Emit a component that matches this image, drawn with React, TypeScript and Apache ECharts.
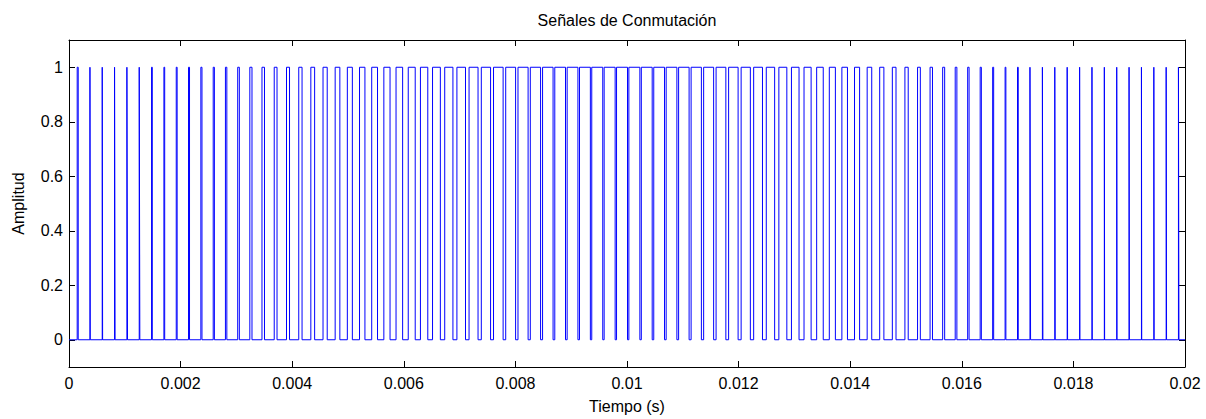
import React, { useEffect, useRef } from "react";
import * as echarts from "echarts";

// Pulse centres (ms)
const pulseCentersMs = [
  0.156, 0.378, 0.599, 0.821, 1.043, 1.264, 1.486, 1.708, 1.93, 2.151,
  2.373, 2.595, 2.816, 3.038, 3.26, 3.481, 3.703, 3.925, 4.147, 4.368,
  4.59, 4.812, 5.033, 5.255, 5.477, 5.698, 5.92, 6.142, 6.364, 6.585,
  6.807, 7.029, 7.25, 7.472, 7.694, 7.915, 8.137, 8.359, 8.581, 8.802,
  9.024, 9.246, 9.467, 9.689, 9.911, 10.132, 10.354, 10.576, 10.798, 11.019,
  11.241, 11.463, 11.684, 11.906, 12.128, 12.349, 12.571, 12.793, 13.015, 13.236,
  13.458, 13.68, 13.901, 14.123, 14.345, 14.566, 14.788, 15.01, 15.232, 15.453,
  15.675, 15.897, 16.118, 16.34, 16.562, 16.783, 17.005, 17.227, 17.449, 17.67,
  17.892, 18.114, 18.335, 18.557, 18.779, 19.0, 19.222, 19.444, 19.666, 19.887,
];

// Pulse widths (µs)
const pulseWidthsUs = [
  18, 5, 7, 9, 11, 11, 13, 14, 16, 18,
  20, 21, 25, 29, 39, 45, 50, 54, 59, 68,
  75, 84, 90, 97, 104, 111, 118, 125, 132, 140,
  147, 154, 161, 166, 172, 177, 181, 184, 188, 192,
  193, 195, 197, 197, 197, 197, 195, 193, 192, 188,
  184, 179, 175, 170, 165, 158, 150, 143, 136, 127,
  118, 109, 100, 91, 82, 75, 66, 59, 50, 43,
  36, 30, 25, 21, 18, 14, 13, 11, 9, 7,
  7, 5, 5, 5, 5, 5, 5, 5, 7, 9,
];

const xTicks = [0, 0.002, 0.004, 0.006, 0.008, 0.01, 0.012, 0.014, 0.016, 0.018, 0.02];
const yTicks = [0, 0.2, 0.4, 0.6, 0.8, 1];

const titleText = "Señales de Conmutación";
const xName = "Tiempo (s)";
const yName = "Amplitud";

export default function App() {
  const ref = useRef<HTMLDivElement>(null);
  useEffect(() => {
    if (!ref.current) return;
    const chart = echarts.init(ref.current, undefined, { renderer: "svg" });

    const data: [number, number][] = [[0, 0]];
    pulseCentersMs.forEach((c, i) => {
      const w = pulseWidthsUs[i] / 1000;
      const r = (c - w / 2) / 1000;
      const f = (c + w / 2) / 1000;
      data.push([r, 0], [r, 1], [f, 1], [f, 0]);
    });
    data.push([0.02, 0]);

    const font = "'Liberation Sans', Arial, sans-serif";
    const fs = 16;
    const fmt = (v: number) => parseFloat(v.toFixed(4)).toString();
    const line = { show: true, onZero: false, lineStyle: { color: "#000", width: 1 } };
    const tick = (vals: number[]) => ({
      show: true,
      inside: true,
      length: 6,
      lineStyle: { color: "#000" },
      customValues: vals,
    });

    chart.setOption({
      animation: false,
      backgroundColor: "#ffffff",
      graphic: [
        {
          type: "text",
          x: 627,
          y: 20,
          style: {
            text: titleText,
            fill: "#000",
            font: `${fs}px ${font}`,
            textAlign: "center",
            textVerticalAlign: "middle",
          },
        },
      ],
      grid: { left: 69, right: 21, top: 40, bottom: 50 },
      xAxis: [
        {
          type: "value",
          min: 0,
          max: 0.02,
          interval: 0.002,
          name: xName,
          nameLocation: "middle",
          nameGap: 31,
          nameTextStyle: { fontFamily: font, fontSize: fs, color: "#000" },
          axisLine: line,
          axisTick: tick(xTicks),
          axisLabel: {
            fontFamily: font,
            fontSize: fs,
            color: "#000",
            margin: 8,
            customValues: xTicks,
            formatter: fmt,
          },
          splitLine: { show: false },
        },
        {
          type: "value",
          position: "top",
          min: 0,
          max: 0.02,
          interval: 0.002,
          axisLine: line,
          axisTick: tick(xTicks),
          axisLabel: { show: false },
          splitLine: { show: false },
        },
      ],
      yAxis: [
        {
          type: "value",
          min: -0.1,
          max: 1.1,
          name: yName,
          nameLocation: "middle",
          nameGap: 43,
          nameRotate: 90,
          nameTextStyle: { fontFamily: font, fontSize: fs, color: "#000" },
          axisLine: line,
          axisTick: tick(yTicks),
          axisLabel: {
            fontFamily: font,
            fontSize: fs,
            color: "#000",
            margin: 6,
            customValues: yTicks,
            formatter: fmt,
          },
          splitLine: { show: false },
        },
        {
          type: "value",
          position: "right",
          min: -0.1,
          max: 1.1,
          axisLine: line,
          axisTick: tick(yTicks),
          axisLabel: { show: false },
          splitLine: { show: false },
        },
      ],
      series: [
        {
          type: "line",
          data,
          xAxisIndex: 0,
          yAxisIndex: 0,
          showSymbol: false,
          symbol: "none",
          lineStyle: { color: "#0000ff", width: 1 },
          clip: true,
        },
      ],
    });
    return () => chart.dispose();
  }, []);
  return (
    <div
      ref={ref}
      style={{ position: "fixed", left: 0, top: 0, width: 1206, height: 419, background: "#fff" }}
    />
  );
}
